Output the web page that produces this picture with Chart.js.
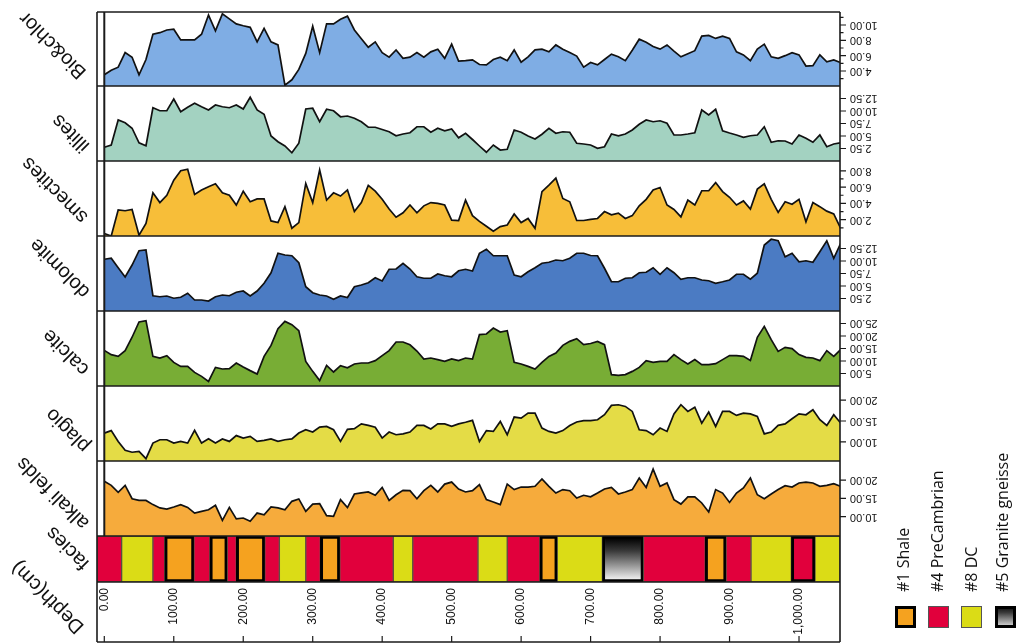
<!DOCTYPE html>
<html>
<head>
<meta charset="utf-8">
<script src="https://cdn.jsdelivr.net/npm/chart.js@4.4.0/dist/chart.umd.min.js"></script>
<style>
  html, body { margin: 0; padding: 0; background: #fff; }
  #wrap { position: relative; width: 1019px; height: 644px; }
</style>
</head>
<body>
<div id="wrap"><canvas id="logChart" width="1019" height="644"></canvas></div>
<script>
'use strict';

// depth of each sample (cm)
const depths = [
  0, 10, 20, 30, 40, 50, 60, 70, 80, 90,
  100, 110, 120, 130, 140, 150, 160, 170, 180, 190,
  200, 210, 220, 230, 240, 250, 260, 270, 280, 290,
  300, 310, 320, 330, 340, 350, 360, 370, 380, 390,
  400, 410, 420, 430, 440, 450, 460, 470, 480, 490,
  500, 510, 520, 530, 540, 550, 560, 570, 580, 590,
  600, 610, 620, 630, 640, 650, 660, 670, 680, 690,
  700, 710, 720, 730, 740, 750, 760, 770, 780, 790,
  800, 810, 820, 830, 840, 850, 860, 870, 880, 890,
  900, 910, 920, 930, 940, 950, 960, 970, 980, 990,
  1000, 1010, 1020, 1030, 1040, 1050, 1060
];

// mineral curves
const bioChlor = [
  3.5, 4.1, 4.5, 6.4, 5.8, 3.5, 5.5, 8.8, 9.0, 9.35,
  9.45, 8.05, 8.05, 8.05, 8.8, 11.3, 9.25, 11.45, 10.8, 10.15,
  9.9, 9.7, 7.8, 9.55, 7.8, 7.4, 2.15, 2.85, 4.2, 6.3,
  9.85, 6.4, 10.15, 10.15, 10.75, 11.15, 9.35, 8.2, 7.1, 7.8,
  6.4, 5.8, 6.75, 5.65, 5.8, 6.4, 5.8, 6.5, 6.85, 5.65,
  7.5, 5.3, 5.35, 5.45, 4.85, 4.8, 5.5, 5.8, 5.35, 6.75,
  5.15, 5.85, 6.75, 6.85, 6.5, 7.4, 6.85, 6.4, 5.95, 4.5,
  5.1, 4.8, 5.5, 6.2, 5.85, 5.35, 6.7, 8.15, 7.75, 7.2,
  6.85, 7.4, 6.6, 5.85, 6.25, 6.65, 8.55, 8.65, 8.25, 8.55,
  8.25, 6.5, 6.1, 5.35, 6.85, 7.5, 5.85, 5.65, 6.0, 6.4,
  6.1, 4.65, 4.7, 6.1, 5.2, 5.45, 5.1
];
const illites = [
  2.75, 3.2, 8.2, 7.65, 6.55, 3.65, 3.05, 10.65, 10.05, 10.05,
  12.4, 9.85, 10.75, 11.55, 10.85, 10.2, 11.2, 10.85, 10.65, 11.2,
  10.4, 12.75, 10.2, 9.35, 5.0, 3.85, 3.0, 1.65, 3.55, 10.4,
  10.55, 7.85, 10.35, 10.05, 8.85, 9.0, 8.55, 7.85, 6.75, 6.75,
  6.3, 5.85, 5.05, 5.4, 5.65, 6.85, 6.85, 5.75, 6.55, 6.05,
  6.4, 4.65, 5.55, 4.3, 3.0, 1.75, 3.2, 2.2, 2.35, 6.2,
  5.75, 5.0, 4.4, 5.35, 6.55, 5.55, 5.85, 5.75, 3.55, 3.4,
  3.2, 2.55, 2.85, 5.4, 5.05, 5.4, 6.2, 7.35, 8.2, 7.85,
  8.05, 7.55, 5.2, 5.2, 5.4, 5.65, 10.2, 9.2, 10.35, 6.05,
  5.6, 5.2, 4.75, 5.05, 5.2, 6.85, 3.75, 4.05, 4.0, 3.4,
  5.2, 4.55, 3.75, 5.2, 2.85, 3.4, 3.65
];
const smectites = [
  0.3, 0.0, 3.2, 3.1, 3.25, 0.1, 1.55, 5.3, 4.1, 5.0,
  6.85, 8.0, 8.2, 5.1, 5.65, 6.05, 6.4, 5.3, 5.0, 3.8,
  5.5, 4.2, 4.55, 4.55, 1.85, 1.65, 3.6, 0.95, 1.65, 6.45,
  4.1, 8.1, 4.4, 5.3, 4.9, 5.65, 3.0, 4.1, 6.2, 5.5,
  4.5, 3.3, 2.3, 2.85, 3.8, 2.85, 3.7, 4.1, 4.0, 3.8,
  1.95, 1.9, 4.4, 2.5, 1.8, 1.2, 0.6, 1.15, 1.35, 2.7,
  1.65, 2.15, 0.95, 5.45, 6.25, 7.1, 4.6, 4.2, 1.9, 1.9,
  2.05, 2.15, 3.0, 2.6, 2.8, 2.15, 2.5, 3.7, 4.5, 5.65,
  5.95, 3.8, 3.25, 2.35, 4.4, 3.8, 5.55, 5.55, 6.55, 5.45,
  4.75, 3.8, 4.3, 3.3, 5.75, 6.4, 4.5, 2.9, 4.2, 3.9,
  4.5, 1.75, 4.1, 3.6, 3.05, 2.7, 0.95
];
const dolomite = [
  10.35, 10.55, 8.65, 6.8, 9.2, 12.05, 12.2, 3.05, 2.85, 3.0,
  2.55, 2.75, 3.55, 2.2, 2.2, 2.0, 2.85, 3.2, 3.05, 3.75,
  4.0, 3.0, 4.0, 5.55, 7.65, 11.55, 11.2, 11.05, 9.65, 4.85,
  3.65, 3.2, 3.0, 2.35, 3.0, 2.7, 4.85, 5.2, 5.65, 6.65,
  6.0, 8.35, 8.4, 9.55, 8.4, 6.85, 6.55, 6.55, 7.4, 7.05,
  6.85, 8.05, 8.35, 8.0, 11.55, 12.35, 11.05, 11.05, 11.05, 7.2,
  6.85, 7.85, 8.65, 9.55, 9.75, 10.2, 10.05, 10.55, 11.55, 11.55,
  11.1, 11.05, 8.55, 5.85, 5.85, 6.55, 6.65, 7.65, 7.75, 8.65,
  7.35, 8.65, 7.65, 6.35, 6.65, 6.65, 6.2, 6.05, 5.55, 5.85,
  6.2, 7.35, 7.35, 6.35, 7.55, 13.2, 14.35, 14.05, 10.85, 11.55,
  9.85, 10.05, 9.75, 11.85, 14.05, 10.55, 13.55
];
const calcite = [
  14.25, 12.55, 11.85, 14.15, 19.5, 25.6, 26.15, 11.85, 11.2, 12.15,
  9.45, 7.85, 7.85, 5.45, 3.85, 1.85, 7.45, 6.8, 6.95, 9.2,
  7.6, 6.15, 4.8, 11.85, 16.25, 22.95, 25.85, 24.55, 22.15, 9.85,
  5.85, 2.15, 8.25, 5.6, 8.15, 7.3, 8.8, 9.2, 9.2, 10.15,
  12.15, 14.15, 17.6, 17.6, 16.5, 14.0, 10.8, 11.2, 10.55, 9.85,
  10.8, 10.15, 11.2, 10.8, 20.55, 20.8, 23.2, 21.6, 22.15, 9.45,
  8.8, 7.85, 6.8, 9.45, 11.85, 13.2, 16.25, 17.85, 18.95, 16.55,
  17.0, 17.85, 16.55, 4.55, 4.25, 4.55, 5.85, 7.45, 10.15, 9.45,
  9.85, 9.85, 12.55, 10.55, 8.8, 10.55, 8.55, 8.55, 8.95, 10.55,
  12.15, 12.15, 11.85, 10.25, 19.45, 23.85, 18.55, 13.85, 15.45, 14.95,
  12.55, 11.45, 11.2, 10.15, 14.15, 11.85, 14.55
];
const plagio = [
  12.1, 12.7, 10.1, 7.95, 7.5, 7.7, 5.95, 9.7, 10.5, 10.5,
  9.7, 10.1, 9.7, 12.75, 9.7, 10.75, 9.7, 10.7, 10.1, 11.5,
  10.9, 11.3, 10.1, 10.35, 10.7, 10.1, 10.5, 10.7, 12.1, 12.9,
  12.35, 13.55, 13.7, 12.9, 10.1, 13.0, 13.15, 14.3, 13.95, 13.5,
  10.9, 12.35, 11.7, 11.9, 12.35, 13.95, 13.95, 13.1, 14.3, 14.3,
  13.7, 14.3, 14.7, 15.15, 10.1, 12.7, 12.5, 14.9, 11.7, 15.95,
  15.7, 16.9, 16.9, 13.3, 12.5, 12.1, 12.7, 13.9, 14.75, 15.1,
  15.1, 15.3, 16.5, 18.75, 18.9, 18.5, 17.3, 12.9, 12.7, 11.7,
  13.3, 12.5, 16.7, 18.9, 17.3, 18.3, 14.5, 17.15, 13.7, 17.3,
  17.3, 16.35, 16.9, 16.7, 16.1, 11.9, 12.35, 13.95, 14.3, 15.55,
  16.7, 16.5, 17.7, 15.3, 13.95, 16.5, 14.5
];
const alkaliFelds = [
  19.65, 18.55, 16.65, 18.55, 14.9, 14.45, 14.45, 13.3, 12.4, 12.1,
  12.65, 13.3, 12.55, 11.0, 11.45, 11.9, 13.1, 9.0, 12.55, 9.4,
  9.65, 8.75, 11.0, 10.55, 12.65, 12.4, 11.9, 14.2, 14.85, 11.45,
  13.45, 13.55, 10.3, 10.1, 14.65, 12.5, 16.2, 16.5, 16.75, 15.85,
  18.0, 14.45, 16.0, 17.2, 17.1, 14.9, 17.1, 18.55, 16.75, 18.9,
  19.45, 17.55, 16.75, 17.1, 18.75, 14.65, 14.0, 13.3, 18.9, 17.4,
  18.1, 18.1, 18.3, 20.3, 18.3, 16.45, 17.4, 17.1, 15.1, 15.85,
  15.45, 16.45, 17.55, 18.0, 16.2, 16.75, 17.4, 20.55, 18.0, 23.0,
  18.3, 19.2, 14.65, 13.45, 15.4, 15.4, 13.75, 11.3, 17.4, 16.45,
  13.9, 16.45, 17.85, 20.55, 16.0, 14.9, 16.2, 17.4, 18.45, 18.1,
  19.2, 19.45, 19.2, 18.3, 18.55, 19.0, 18.3
];

// facies column: boundaries (cm) and the facies of each interval
const faciesBounds = [
  -10.5, 25, 70, 87, 129, 152, 177, 190, 231, 252, 290, 311, 339, 416,
  444, 538, 580, 627, 652, 717, 776, 865, 895, 931, 989, 1023, 1059
];
const faciesTypes = [
  'pre', 'dc', 'pre', 'shale', 'pre', 'shale', 'pre', 'shale', 'pre', 'dc',
  'pre', 'shale', 'pre', 'dc', 'pre', 'dc', 'pre', 'shale', 'dc', 'granite',
  'pre', 'shale', 'pre', 'dc', 'preBox', 'dc'
];
const legendLabels = ['#1 Shale', '#4 PreCambrian', '#8 DC', '#5 Granite gneisse'];
const legendTypes = ['shale', 'pre', 'dc', 'granite'];

// tick labels
const depthTicks = [0, 100, 200, 300, 400, 500, 600, 700, 800, 900, 1000];
const bioTicks = [4, 6, 8, 10];
const bioMinor = [3, 5, 7, 9, 11];
const illiteTicks = [2.5, 5, 7.5, 10, 12.5];
const smectiteTicks = [2, 4, 6, 8];
const smectiteMinor = [1, 3, 5, 7];
const dolomiteTicks = [2.5, 5, 7.5, 10, 12.5];
const calciteTicks = [5, 10, 15, 20, 25];
const plagioTicks = [10, 15, 20];
const alkaliTicks = [10, 15, 20];

// panel setup (ranges, colours, label spots)
const panels = [
  { id: 'yBio', name: 'Bio&chlor', data: bioChlor, color: '#7fade4', min: 2.04, max: 11.7, h: 74, major: bioTicks, minor: bioMinor, lx: 53, ly: 45 },
  { id: 'yIll', name: 'illites', data: illites, color: '#a3d2c1', min: 0, max: 15, h: 75, major: illiteTicks, minor: [], lx: 71, ly: 133 },
  { id: 'ySme', name: 'smectites', data: smectites, color: '#f7be39', min: 0, max: 9.2, h: 75, major: smectiteTicks, minor: smectiteMinor, lx: 55, ly: 190 },
  { id: 'yDol', name: 'dolomite', data: dolomite, color: '#4b7bc3', min: 0, max: 15, h: 75, major: dolomiteTicks, minor: [], lx: 60, ly: 268 },
  { id: 'yCal', name: 'calcite', data: calcite, color: '#78ad35', min: 0, max: 30, h: 75, major: calciteTicks, minor: [], lx: 66, ly: 352 },
  { id: 'yPla', name: 'plagio', data: plagio, color: '#e4dc46', min: 5.4, max: 23.4, h: 75, major: plagioTicks, minor: [], lx: 68, ly: 430 },
  { id: 'yAlk', name: 'alkali felds', data: alkaliFelds, color: '#f6ab3c', min: 4.74, max: 25.2, h: 75, major: alkaliTicks, minor: [], lx: 53, ly: 493 }
];
const faciesColors = { pre: '#e1003c', preBox: '#e1003c', dc: '#dbdc16', shale: '#f5a21f' };
const boxedFacies = ['shale', 'granite', 'preBox'];

function graniteFill(c, top, bottom) {
  const g = c.createLinearGradient(0, top, 0, bottom);
  g.addColorStop(0, '#050505');
  g.addColorStop(0.3, '#3a3a3a');
  g.addColorStop(1, '#ececec');
  return g;
}

const LINE = '#1b1b1b';

const stripPlugin = {
  id: 'strip',
  afterDatasetsDraw(chart) {
    const c = chart.ctx;
    const x = chart.scales.x;
    const area = chart.chartArea;
    const yF = chart.scales.yFacies;
    c.save();
    c.strokeStyle = LINE;
    c.fillStyle = '#111';

    // depth zero line
    c.lineWidth = 2;
    c.beginPath();
    c.moveTo(x.getPixelForValue(0), area.top);
    c.lineTo(x.getPixelForValue(0), yF.top);
    c.stroke();

    // frame and panel separators
    c.lineWidth = 1.6;
    c.beginPath();
    panels.forEach(p => {
      const s = chart.scales[p.id];
      c.moveTo(area.left, s.top);
      c.lineTo(area.right, s.top);
    });
    c.moveTo(area.left, yF.top); c.lineTo(area.right, yF.top);
    c.moveTo(area.left, yF.bottom); c.lineTo(area.right, yF.bottom);
    c.moveTo(area.left, x.bottom); c.lineTo(area.right, x.bottom);
    c.moveTo(area.left, area.top); c.lineTo(area.left, x.bottom);
    c.moveTo(area.right, area.top); c.lineTo(area.right, x.bottom);
    c.stroke();

    // value scales on the right, labels upside down
    c.lineWidth = 1.2;
    c.font = '11px "Liberation Sans", Arial, sans-serif';
    panels.forEach(p => {
      const s = chart.scales[p.id];
      c.beginPath();
      p.major.forEach(v => {
        const y = s.getPixelForValue(v);
        c.moveTo(area.right, y); c.lineTo(area.right + 6, y);
      });
      p.minor.forEach(v => {
        const y = s.getPixelForValue(v);
        c.moveTo(area.right, y); c.lineTo(area.right + 3.5, y);
      });
      c.stroke();
      p.major.forEach(v => {
        const y = s.getPixelForValue(v);
        c.save();
        c.translate(area.right + 10, y);
        c.rotate(Math.PI);
        c.textAlign = 'right';
        c.textBaseline = 'middle';
        c.fillText(v.toFixed(2), 0, 0);
        c.restore();
      });
    });

    // depth axis
    c.font = '12px "Liberation Sans", Arial, sans-serif';
    c.beginPath();
    depthTicks.forEach(d => {
      const px = x.getPixelForValue(d);
      c.moveTo(px, x.bottom - 6); c.lineTo(px, x.bottom);
    });
    c.stroke();
    depthTicks.forEach(d => {
      const px = x.getPixelForValue(d);
      c.save();
      c.translate(px, x.top + 6);
      c.rotate(-Math.PI / 2);
      c.textAlign = 'right';
      c.textBaseline = 'middle';
      c.fillText(d.toLocaleString('en-US', { minimumFractionDigits: 2, maximumFractionDigits: 2 }), 0, 0);
      c.restore();
    });

    // column titles
    c.font = '20px "Liberation Sans", Arial, sans-serif';
    const titles = panels.map(p => [p.name, p.lx, p.ly]).concat([['facies', 68, 548], ['Depth(cm)', 48, 597]]);
    titles.forEach(([t, tx, ty]) => {
      c.save();
      c.translate(tx, ty);
      c.rotate(225 * Math.PI / 180);
      c.textAlign = 'center';
      c.textBaseline = 'middle';
      c.fillText(t, 0, 0);
      c.restore();
    });

    // legend
    const boxX = [895, 928, 961, 995];
    const textX = [909, 943, 977, 1008];
    c.font = '16px "Open Sans", sans-serif';
    legendTypes.forEach((t, i) => {
      const bx = boxX[i], by = 606, bw = 21, bh = 22;
      c.fillStyle = t === 'granite' ? graniteFill(c, by, by + bh) : faciesColors[t];
      c.fillRect(bx, by, bw, bh);
      if (boxedFacies.includes(t)) {
        c.lineWidth = 3; c.strokeStyle = '#000';
        c.strokeRect(bx + 1.5, by + 1.5, bw - 3, bh - 3);
      } else {
        c.lineWidth = 1; c.strokeStyle = '#555';
        c.strokeRect(bx + 0.5, by + 0.5, bw - 1, bh - 1);
      }
      c.save();
      c.fillStyle = '#111';
      c.translate(textX[i], 592);
      c.rotate(-Math.PI / 2);
      c.textAlign = 'left';
      c.textBaseline = 'alphabetic';
      c.fillText(legendLabels[i], 0, 0);
      c.restore();
    });
    c.restore();
  }
};

const hidden = { grid: { display: false }, border: { display: false }, ticks: { display: false } };

const scales = {
  x: Object.assign({ type: 'linear', position: 'bottom', min: -10.5, max: 1059,
    afterFit(s) { s.height = 60; } }, hidden)
};
panels.forEach(p => {
  scales[p.id] = Object.assign({ type: 'linear', position: 'right', stack: 'log', stackWeight: p.h,
    min: p.min, max: p.max, afterFit(s) { s.width = 179; } }, hidden);
});
scales.yFacies = Object.assign({ type: 'category', labels: ['facies'], offset: true, position: 'right',
  stack: 'log', stackWeight: 46, afterFit(s) { s.width = 179; } }, hidden);

const datasets = panels.map(p => ({
  type: 'line',
  label: p.name,
  data: depths.map((d, i) => ({ x: d, y: p.data[i] })),
  xAxisID: 'x',
  yAxisID: p.id,
  borderColor: '#111',
  borderWidth: 1.7,
  backgroundColor: p.color,
  fill: 'start',
  pointRadius: 0,
  tension: 0
}));

datasets.push({
  type: 'bar',
  label: 'facies',
  indexAxis: 'y',
  xAxisID: 'x',
  yAxisID: 'yFacies',
  data: faciesTypes.map((t, i) => ({ x: [faciesBounds[i], faciesBounds[i + 1]], y: 'facies' })),
  backgroundColor(ctx) {
    const t = faciesTypes[ctx.dataIndex];
    if (t === 'granite') {
      const s = ctx.chart.scales.yFacies;
      if (!s) return '#777';
      return graniteFill(ctx.chart.ctx, s.top + 3, s.bottom - 3);
    }
    return faciesColors[t];
  },
  borderColor(ctx) {
    return boxedFacies.includes(faciesTypes[ctx.dataIndex]) ? '#000' : 'rgba(70,60,40,0.85)';
  },
  borderWidth(ctx) {
    return boxedFacies.includes(faciesTypes[ctx.dataIndex]) ? 3 : 1;
  },
  borderSkipped: false,
  barPercentage: 1,
  categoryPercentage: 1
});

new Chart(document.getElementById('logChart'), {
  type: 'line',
  data: { datasets },
  options: {
    responsive: false,
    animation: false,
    devicePixelRatio: 1,
    layout: { padding: { left: 97, top: 12, right: 0, bottom: 2 } },
    plugins: { legend: { display: false }, tooltip: { enabled: false } },
    scales
  },
  plugins: [stripPlugin]
});
</script>
</body>
</html>
